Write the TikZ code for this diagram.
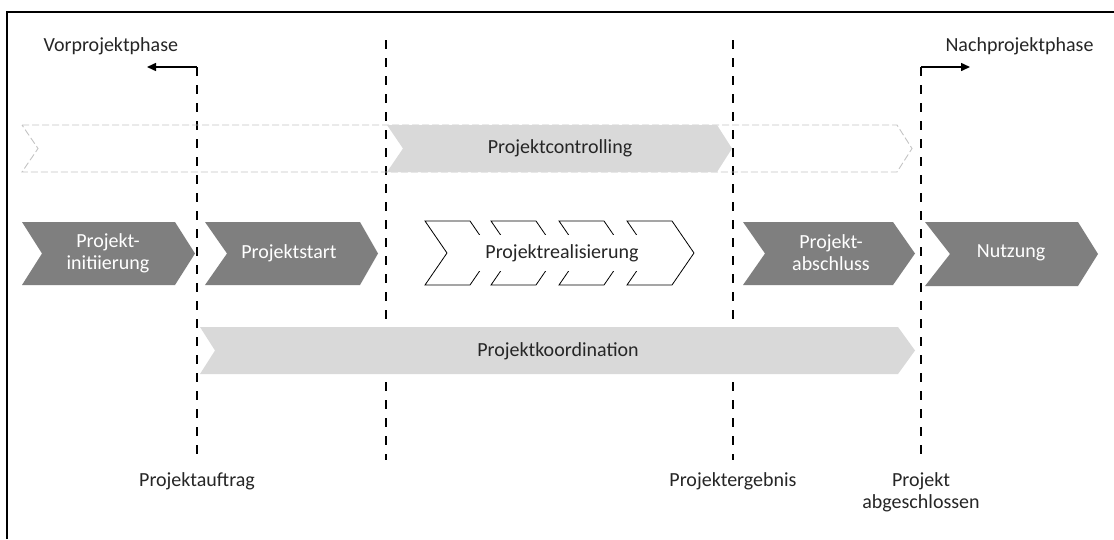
\documentclass[tikz,border=0pt]{standalone}
\usepackage{fontspec}
\setmainfont{Carlito}
\usetikzlibrary{arrows.meta}

\definecolor{phasedark}{HTML}{7F7F7F}
\definecolor{phaselight}{HTML}{D9D9D9}
\definecolor{outlinegray}{HTML}{C4C4C4}

% chevron outline: left, notch, corner, tip, top, bottom
\newcommand\chevpath[6]{(#1,#5) -- (#3,#5) -- (#4,{(#5+#6)/2}) -- (#3,#6) -- (#1,#6) -- (#2,{(#5+#6)/2}) -- cycle}

\tikzset{
  milestone/.style={line width=2.8pt, dash pattern=on 9pt off 9pt},
  darkchev/.style={fill=phasedark},
  lightchev/.style={fill=phaselight},
  openchev/.style={draw=black, line width=0.8pt, fill=white},
  ghostchev/.style={draw=outlinegray, line width=0.9pt, dash pattern=on 7pt off 3pt},
  phaselabel/.style={text=white, align=center, font=\fontsize{20}{22}\selectfont},
  barlabel/.style={text=black!85, align=center, font=\fontsize{20}{22}\selectfont},
  plainlabel/.style={text=black!85, align=center, font=\fontsize{20}{22}\selectfont},
  sidearrow/.style={line width=1.5pt, -{Triangle[length=9pt,width=8pt]}},
}

\begin{document}
\begin{tikzpicture}[x=1pt, y=-1pt]
\useasboundingbox (0,0) rectangle (1114,539);
\fill[white] (0,0) rectangle (1114,539);

% frame
\draw[line width=2.4pt] (7,539) -- (7,12) -- (1114,12);

% milestone lines
\coordinate (mA) at (197,67);
\coordinate (mAb) at (197,460);
\coordinate (mB) at (386,40);
\coordinate (mBb) at (386,460);
\coordinate (mC) at (733,40);
\coordinate (mCb) at (733,460);
\coordinate (mD) at (921,67);
\coordinate (mDb) at (921,460);
\draw[milestone] (mA) -- (mAb);
\draw[milestone] (mB) -- (mBb);
\draw[milestone] (mC) -- (mCb);
\draw[milestone] (mD) -- (mDb);

% phase arrows at the top
\coordinate (preEnd) at (147,67);
\coordinate (postEnd) at (970,67);
\draw[sidearrow] (mA) -- (preEnd);
\draw[sidearrow] (mD) -- (postEnd);
\node[plainlabel, anchor=west] (pre) at (40,46) {Vorprojektphase};
\node[plainlabel, anchor=west] (post) at (942,46) {Nachprojektphase};

% controlling band
\draw[ghostchev] \chevpath{22}{38}{897}{912}{125}{172};
\fill[lightchev] \chevpath{387}{403}{717}{732}{125}{172};
\node[barlabel] (ctrl) at (560,148) {Projektcontrolling};

% project phases
\fill[darkchev] \chevpath{22}{42}{175}{195}{222}{285};
\node[phaselabel] (init) at (108,253) {Projekt-\\initiierung};

\fill[darkchev] \chevpath{205}{227}{360}{378}{222}{285};
\node[phaselabel] (start) at (289,253) {Projektstart};

\foreach \l in {425,491,559,627}{
  \draw[openchev] \chevpath{\l}{\l+22}{\l+45}{\l+67}{221}{285};
}
\node[fill=white, minimum width=185pt, minimum height=36pt, inner sep=0pt,
      plainlabel] (real) at (562,253) {Projektrealisierung};

\fill[darkchev] \chevpath{743}{765}{893}{915}{222}{285};
\node[phaselabel] (close) at (831,253) {Projekt-\\abschluss};

\fill[darkchev] \chevpath{925}{950}{1078}{1098}{222}{286};
\node[phaselabel] (use) at (1011,253) {Nutzung};

% coordination band
\fill[lightchev] \chevpath{200}{215}{898}{915}{327}{374};
\node[barlabel] (coord) at (558,351) {Projektkoordination};

% milestone captions
\node[plainlabel] (auftrag) at (197,481) {Projektauftrag};
\node[plainlabel] (ergebnis) at (733,481) {Projektergebnis};
\node[plainlabel] (abgeschl) at (921,492) {Projekt\\abgeschlossen};
\end{tikzpicture}
\end{document}
